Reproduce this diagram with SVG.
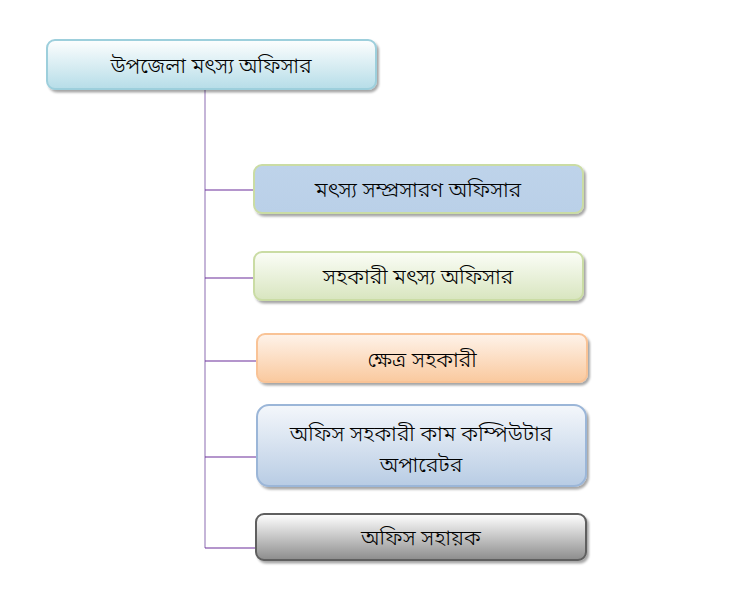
<svg xmlns="http://www.w3.org/2000/svg" width="753" height="596" viewBox="0 0 753 596">
<defs>
<linearGradient id="gTop" x1="0" y1="0" x2="0" y2="1"><stop offset="0" stop-color="#FDFEFE"/><stop offset="1" stop-color="#B6DDE8"/></linearGradient>
<linearGradient id="gBlue1" x1="0" y1="0" x2="0" y2="1"><stop offset="0" stop-color="#BED3EA"/><stop offset="1" stop-color="#BAD0E8"/></linearGradient>
<linearGradient id="gGreen" x1="0" y1="0" x2="0" y2="1"><stop offset="0" stop-color="#FBFDF7"/><stop offset="1" stop-color="#D8E5BF"/></linearGradient>
<linearGradient id="gPeach" x1="0" y1="0" x2="0" y2="1"><stop offset="0" stop-color="#FEF3EA"/><stop offset="1" stop-color="#FAC99E"/></linearGradient>
<linearGradient id="gBlue2" x1="0" y1="0" x2="0" y2="1"><stop offset="0" stop-color="#F4F7FB"/><stop offset="1" stop-color="#B8CCE4"/></linearGradient>
<linearGradient id="gGray" x1="0" y1="0" x2="0" y2="1"><stop offset="0" stop-color="#FFFFFF"/><stop offset="1" stop-color="#8C8C8C"/></linearGradient>
<filter id="sh" x="-5%" y="-10%" width="115%" height="130%"><feDropShadow dx="2" dy="2.5" stdDeviation="1" flood-color="#000" flood-opacity="0.35"/></filter>
</defs>
<style>
.box{stroke-width:2;filter:url(#sh)}
.t{font-family:"Noto Sans Bengali","Lohit Bengali","Vrinda","FreeSans",sans-serif;font-size:21.5px;font-weight:300;fill:#000;text-anchor:middle}
.vl{stroke:#B29CCB;stroke-width:1.5;fill:none}
.hl{stroke:#6A2C9A;stroke-width:1.2;fill:none}
</style>
<rect width="753" height="596" fill="#FFFFFF"/>
<g id="connectors">
<line class="vl" x1="205" y1="89" x2="205" y2="548"/>
<line class="hl" x1="205" y1="190" x2="254" y2="190"/>
<line class="hl" x1="205" y1="278" x2="254" y2="278"/>
<line class="hl" x1="205" y1="361" x2="257" y2="361"/>
<line class="hl" x1="205" y1="457" x2="257" y2="457"/>
<line class="hl" x1="205" y1="548" x2="256" y2="548"/>
</g>
<g id="node-upazila">
<rect class="box" x="47" y="40" width="329" height="49" rx="8" fill="url(#gTop)" stroke="#9DCFDC"/>
<text class="t" x="211" y="73">উপজেলা মৎস্য অফিসার</text>
</g>
<g id="node-extension">
<rect class="box" x="254" y="165" width="329" height="48" rx="8" fill="url(#gBlue1)" stroke="#CADCA4"/>
<text class="t" x="418" y="197">মৎস্য সম্প্রসারণ অফিসার</text>
</g>
<g id="node-assistant">
<rect class="box" x="254" y="252" width="329" height="48" rx="8" fill="url(#gGreen)" stroke="#CADCA4"/>
<text class="t" x="418" y="284">সহকারী মৎস্য অফিসার</text>
</g>
<g id="node-field">
<rect class="box" x="257" y="334" width="330" height="48" rx="8" fill="url(#gPeach)" stroke="#F9C396"/>
<text class="t" x="422" y="367">ক্ষেত্র সহকারী</text>
</g>
<g id="node-operator">
<rect class="box" x="257" y="405" width="329" height="81" rx="12" fill="url(#gBlue2)" stroke="#9BB6D8"/>
<text class="t" x="421" y="441">অফিস সহকারী কাম কম্পিউটার</text>
<text class="t" x="421" y="472">অপারেটর</text>
</g>
<g id="node-helper">
<rect class="box" x="256" y="514" width="330" height="46" rx="8" fill="url(#gGray)" stroke="#5E5E5E"/>
<text class="t" x="421" y="545">অফিস সহায়ক</text>
</g>
</svg>
